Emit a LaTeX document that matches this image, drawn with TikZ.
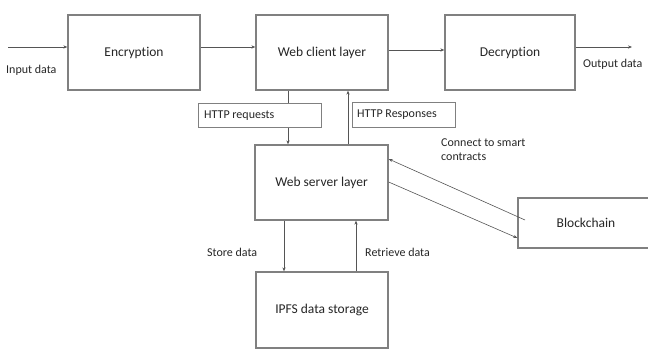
\documentclass[tikz,border=0pt]{standalone}
\usepackage{fontspec}
\setmainfont{Carlito}[Ligatures=NoCommon]
\usetikzlibrary{arrows.meta}
\definecolor{boxline}{HTML}{808080}
\definecolor{wire}{HTML}{555555}
\definecolor{ink}{HTML}{262626}
\tikzset{
  block/.style={draw=boxline, line width=1.3pt, fill=white, rectangle, inner sep=0pt,
    text=ink, font=\fontsize{13.5}{15}\selectfont},
  tag/.style={draw=boxline, line width=1.1pt, fill=white, rectangle, inner sep=0pt,
    text=ink, font=\fontsize{12}{14}\selectfont, anchor=north west},
  lbl/.style={text=ink, font=\fontsize{12}{14}\selectfont, inner sep=0pt},
  flow/.style={draw=wire, line width=0.6pt, -{Stealth[length=4pt,width=3.2pt]}}
}
\begin{document}
\begin{tikzpicture}[x=1pt, y=-1pt]
\useasboundingbox (0,0) rectangle (648,350);
\clip (0,0) rectangle (648,350);

% main blocks
\node[block, minimum width=132pt, minimum height=75pt] (enc) at (134,52.5) {Encryption};
\node[block, minimum width=132pt, minimum height=75pt] (wcl) at (322,52.5) {Web client layer};
\node[block, minimum width=130pt, minimum height=75pt] (dec) at (510,52.5) {Decryption};
\node[block, minimum width=133pt, minimum height=75pt] (ws) at (321.5,182.5) {Web server layer};
\node[block, minimum width=132pt, minimum height=76pt] (ipfs) at (322,310) {IPFS data storage};
\node[block, minimum width=136pt, minimum height=50pt] (bc) at (586,223) {Blockchain};

% free ends of the input/output arrows
\coordinate (in) at (8,47);
\coordinate (out) at (632,47);

% horizontal pipeline
\draw[flow] (in) -- (in -| enc.west);
\draw[flow] (enc.east |- 0,47) -- (wcl.west |- 0,47);
\draw[flow] (wcl.east |- 0,50) -- (dec.west |- 0,50);
\draw[flow] (dec.east |- 0,47) -- (out);

% client <-> server
\draw[flow] (wcl.south -| 288,0) -- (ws.north -| 288,0);
\draw[flow] (ws.north -| 348,0) -- (wcl.south -| 348,0);

% request / response tags
\node[tag, minimum width=123pt, minimum height=24pt] (req) at (198,103) {};
\node[lbl, anchor=west] at ([xshift=6pt]req.west) {HTTP requests};
\node[tag, minimum width=103pt, minimum height=25pt] (resp) at (352,102) {};
\node[lbl, anchor=west] at ([xshift=5pt]resp.west) {HTTP Responses};

% server <-> blockchain
\coordinate (bcin) at (525,220);
\draw[flow] (bcin) -- (ws.east |- 0,159);
\draw[flow] (ws.east |- 0,182) -- (bc.west |- 0,238);

% server <-> storage
\draw[flow] (ws.south -| 284,0) -- (ipfs.north -| 284,0);
\draw[flow] (ipfs.north -| 356,0) -- (ws.south -| 356,0);

% labels
\node[lbl, anchor=west] at (6,70) {Input data};
\node[lbl, anchor=west] at (583,64) {Output data};
\node[lbl, anchor=north west, align=left] at (441,139) {Connect to smart\\contracts};
\node[lbl, anchor=west] at (207,252) {Store data};
\node[lbl, anchor=west] at (365,252) {Retrieve data};
\end{tikzpicture}
\end{document}
